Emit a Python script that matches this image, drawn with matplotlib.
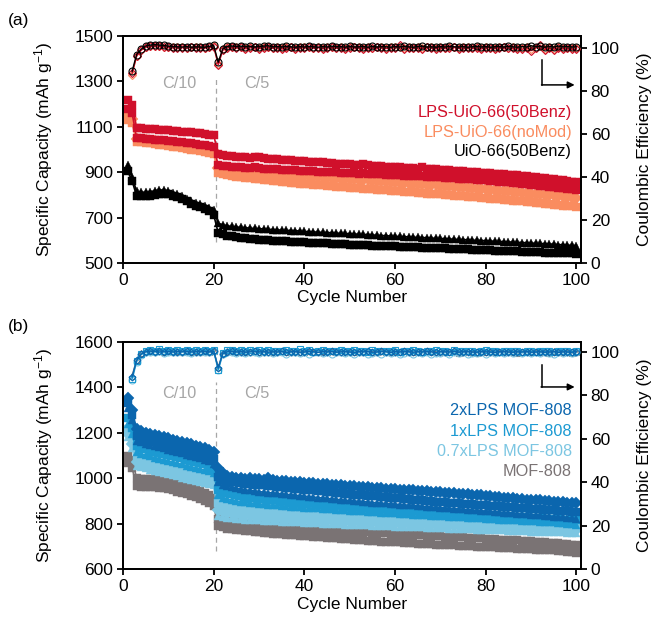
import numpy as np
import matplotlib
matplotlib.use("Agg")
import matplotlib.pyplot as plt

plt.rcParams['font.family'] = ['Liberation Sans', 'DejaVu Sans']
plt.rcParams['mathtext.fontset'] = 'custom'
plt.rcParams['mathtext.rm'] = 'Liberation Sans'
plt.rcParams['mathtext.it'] = 'Liberation Sans:italic'

cycles = list(range(1, 101))
cycles_ce = list(range(2, 101))

# ---------------- Panel (a) capacities ----------------
red_a1 = [1220, 1195, 1096, 1094, 1092, 1090, 1089, 1087, 1085, 1084,
          1082, 1080, 1079, 1077, 1075, 1073, 1071, 1068, 1066, 1063,
          978, 975, 973, 971, 969, 967, 966, 964, 968, 965,
          962, 960, 958, 957, 955, 954, 952, 951, 950, 948,
          947, 945, 944, 943, 941, 940, 938, 937, 936, 935,
          933, 932, 936, 931, 929, 928, 926, 925, 924, 922,
          921, 920, 919, 917, 916, 924, 915, 913, 912, 910,
          909, 908, 906, 905, 904, 902, 901, 900, 898, 897,
          895, 894, 892, 891, 889, 887, 886, 884, 882, 880,
          878, 876, 874, 871, 869, 866, 864, 861, 858, 855]
red_a2 = [1180, 1160, 1052, 1050, 1048, 1046, 1044, 1042, 1040, 1038,
          1036, 1034, 1032, 1030, 1027, 1025, 1022, 1019, 1016, 1012,
          930, 928, 926, 924, 922, 921, 919, 918, 921, 917,
          916, 915, 913, 912, 911, 910, 909, 908, 907, 906,
          905, 904, 903, 902, 901, 900, 899, 898, 897, 896,
          895, 894, 897, 893, 892, 891, 890, 889, 888, 887,
          886, 885, 884, 883, 882, 885, 881, 880, 878, 877,
          876, 875, 873, 872, 871, 869, 868, 867, 865, 864,
          862, 861, 859, 857, 855, 853, 851, 849, 847, 845,
          843, 841, 839, 837, 835, 832, 830, 827, 824, 821]
orange_a1 = [1150, 1135, 1045, 1043, 1041, 1039, 1037, 1035, 1032, 1030,
             1027, 1025, 1022, 1019, 1016, 1012, 1008, 1004, 1000, 995,
             920, 918, 915, 912, 910, 907, 905, 903, 906, 901,
             899, 897, 895, 893, 892, 890, 888, 887, 885, 884,
             882, 881, 879, 878, 876, 875, 873, 872, 870, 869,
             868, 866, 865, 868, 863, 861, 860, 858, 857, 855,
             854, 852, 851, 849, 848, 846, 845, 843, 850, 841,
             839, 838, 836, 834, 833, 831, 829, 828, 826, 824,
             822, 821, 819, 817, 815, 814, 812, 810, 808, 806,
             805, 803, 801, 800, 798, 796, 794, 792, 790, 788]
orange_a2 = [1140, 1125, 1040, 1038, 1036, 1034, 1031, 1029, 1026, 1024,
             1021, 1018, 1015, 1012, 1009, 1005, 1001, 997, 993, 988,
             905, 902, 899, 896, 893, 890, 887, 885, 888, 882,
             880, 878, 876, 874, 872, 870, 868, 866, 864, 862,
             861, 859, 857, 855, 854, 852, 850, 849, 847, 846,
             844, 843, 841, 840, 838, 837, 835, 834, 832, 831,
             829, 828, 826, 825, 823, 822, 820, 819, 817, 816,
             814, 813, 811, 810, 808, 806, 805, 803, 801, 800,
             798, 796, 795, 793, 791, 789, 788, 786, 784, 782,
             780, 778, 777, 775, 773, 771, 769, 767, 765, 763]
orange_a3 = [1130, 1115, 1035, 1033, 1030, 1028, 1025, 1022, 1019, 1016,
             1013, 1010, 1007, 1003, 1000, 996, 992, 988, 984, 980,
             895, 891, 887, 884, 881, 878, 875, 873, 870, 868,
             866, 864, 862, 860, 858, 856, 854, 852, 850, 849,
             847, 845, 843, 842, 840, 838, 837, 835, 833, 832,
             830, 829, 827, 826, 824, 823, 821, 820, 818, 817,
             815, 814, 812, 811, 809, 808, 806, 805, 803, 802,
             800, 799, 797, 796, 794, 792, 791, 789, 787, 786,
             784, 782, 780, 779, 777, 775, 773, 771, 769, 767,
             765, 763, 761, 759, 757, 755, 753, 751, 749, 746]
black_a1 = [930, 880, 815, 812, 811, 814, 818, 822, 821, 817,
            810, 802, 793, 784, 775, 766, 758, 750, 742, 735,
            675, 668, 664, 661, 659, 657, 655, 654, 652, 651,
            650, 649, 647, 646, 645, 644, 643, 642, 641, 639,
            638, 637, 636, 635, 634, 633, 632, 631, 630, 629,
            628, 627, 626, 625, 624, 622, 621, 620, 619, 618,
            617, 616, 615, 614, 613, 612, 611, 610, 609, 608,
            607, 606, 605, 604, 603, 602, 601, 600, 599, 598,
            597, 596, 595, 594, 593, 592, 591, 590, 589, 588,
            587, 586, 585, 584, 583, 581, 580, 579, 578, 576]
black_a2 = [905, 862, 795, 793, 794, 797, 801, 805, 806, 803,
            797, 789, 780, 771, 762, 753, 745, 737, 728, 712,
            632, 626, 621, 617, 614, 611, 609, 607, 605, 603,
            601, 600, 598, 597, 596, 595, 594, 593, 592, 591,
            590, 589, 588, 587, 586, 585, 584, 583, 582, 581,
            580, 579, 578, 578, 577, 576, 575, 574, 573, 573,
            572, 571, 570, 569, 569, 568, 567, 566, 565, 565,
            564, 563, 562, 561, 561, 560, 559, 558, 557, 557,
            556, 555, 554, 553, 553, 552, 551, 550, 549, 549,
            548, 547, 546, 546, 545, 544, 543, 542, 542, 541]

# ---------------- Panel (a) Coulombic efficiency ----------------
ce_a_black = [89.0, 96.8, 99.3, 100.8, 101.2, 101.4, 101.2, 101.0, 100.7, 100.5,
              100.4, 100.3, 100.5, 100.2, 100.4, 100.3, 100.2, 100.6, 101.0, 93.2,
              99.5, 100.6, 100.8, 100.5, 100.7, 100.4, 100.6, 100.3, 100.5, 100.7,
              100.9, 100.4, 100.5, 100.3, 100.6, 100.4, 100.2, 100.5, 100.3, 100.6,
              100.4, 100.2, 100.5, 100.3, 100.7, 100.4, 100.5, 100.2, 100.6, 100.3,
              100.4, 100.5, 100.2, 100.6, 100.3, 100.5, 100.4, 100.2, 100.5, 100.3,
              100.6, 100.4, 100.2, 100.5, 100.7, 100.3, 100.4, 100.2, 100.5, 100.3,
              100.6, 100.4, 100.3, 100.5, 100.2, 100.4, 100.6, 100.3, 100.5, 100.2,
              100.4, 100.5, 100.3, 100.6, 100.4, 100.2, 100.5, 100.3, 100.9, 100.4,
              100.6, 100.2, 100.5, 100.3, 100.7, 100.4, 100.5, 100.3, 100.4]
ce_a_red = [88.0, 96.0, 98.8, 100.2, 100.6, 100.8, 100.6, 100.4, 100.2, 100.0,
            99.9, 100.0, 99.8, 100.1, 99.9, 100.0, 99.8, 100.2, 100.4, 92.0,
            98.8, 100.0, 100.3, 99.8, 100.1, 99.5, 99.9, 100.2, 99.6, 100.0,
            100.3, 99.7, 100.0, 99.4, 99.9, 100.1, 99.6, 100.0, 99.8, 100.2,
            99.7, 100.0, 99.5, 99.9, 100.1, 99.7, 100.0, 99.6, 99.9, 100.2,
            99.8, 99.5, 100.0, 99.7, 100.1, 99.9, 99.6, 100.0, 99.8, 101.0,
            99.5, 100.0, 99.7, 99.9, 99.6, 100.1, 99.8, 99.5, 100.0, 99.7,
            99.9, 100.1, 99.6, 99.8, 100.0, 99.7, 99.9, 99.5, 100.0, 99.8,
            99.6, 99.9, 100.1, 99.7, 99.8, 99.5, 99.2, 100.0, 98.6, 99.7,
            101.2, 99.0, 99.8, 98.8, 99.9, 99.4, 99.8, 99.2, 99.5]
ce_a_orange = [87.5, 96.3, 99.0, 100.4, 100.8, 100.9, 100.7, 100.5, 100.3, 100.2,
               100.1, 100.2, 100.0, 100.2, 100.1, 100.2, 100.0, 100.3, 100.6, 92.6,
               99.2, 100.3, 100.5, 100.1, 100.3, 100.0, 100.2, 100.4, 100.0, 100.2,
               100.5, 100.0, 100.2, 99.9, 100.2, 100.3, 100.0, 100.2, 100.1, 100.4,
               100.0, 100.2, 99.9, 100.1, 100.3, 100.0, 100.2, 100.0, 100.1, 100.4,
               100.1, 99.9, 100.2, 100.0, 100.3, 100.1, 100.0, 100.2, 100.1, 100.5,
               99.9, 100.2, 100.0, 100.1, 99.9, 100.3, 100.1, 99.9, 100.2, 100.0,
               100.1, 100.3, 100.0, 100.1, 100.2, 100.0, 100.1, 99.9, 100.2, 100.0,
               99.9, 100.1, 100.3, 100.0, 100.1, 99.9, 99.8, 100.2, 99.5, 100.0,
               100.6, 99.6, 100.1, 99.5, 100.1, 99.8, 100.0, 99.7, 99.9]

# ---------------- Panel (b) capacities ----------------
db_b1 = [1355, 1300, 1215, 1207, 1201, 1196, 1191, 1186, 1181, 1176,
         1170, 1165, 1159, 1154, 1149, 1144, 1139, 1133, 1125, 1114,
         1045, 1022, 1012, 1006, 1003, 1000, 998, 1003, 996, 995,
         993, 1001, 991, 990, 988, 987, 985, 984, 982, 980,
         979, 978, 976, 975, 973, 972, 970, 969, 967, 965,
         964, 963, 961, 960, 958, 957, 955, 954, 953, 952,
         950, 949, 947, 946, 944, 943, 942, 940, 939, 938,
         936, 935, 933, 932, 930, 929, 927, 925, 924, 923,
         921, 919, 917, 915, 913, 911, 909, 907, 906, 905,
         903, 902, 900, 899, 897, 896, 894, 893, 892, 890]
db_b2 = [1330, 1280, 1185, 1178, 1172, 1167, 1162, 1157, 1152, 1147,
         1142, 1137, 1131, 1126, 1121, 1116, 1110, 1104, 1096, 1086,
         1005, 995, 989, 985, 982, 979, 976, 974, 972, 970,
         968, 966, 964, 962, 960, 958, 956, 954, 952, 950,
         948, 946, 944, 942, 940, 938, 936, 934, 932, 930,
         928, 927, 925, 923, 921, 920, 918, 916, 914, 912,
         911, 909, 907, 906, 904, 902, 901, 899, 897, 896,
         894, 893, 891, 890, 888, 887, 885, 884, 882, 881,
         879, 878, 876, 875, 873, 872, 870, 869, 867, 866,
         864, 863, 861, 860, 858, 857, 855, 854, 852, 850]
db_b3 = [1310, 1258, 1165, 1158, 1152, 1146, 1141, 1136, 1131, 1126,
         1120, 1115, 1110, 1104, 1099, 1093, 1088, 1082, 1074, 1063,
         985, 972, 965, 960, 956, 952, 949, 946, 944, 941,
         939, 937, 935, 933, 931, 929, 927, 925, 923, 921,
         919, 917, 915, 913, 911, 909, 907, 905, 903, 902,
         900, 898, 897, 895, 893, 892, 890, 889, 887, 886,
         884, 883, 881, 880, 878, 876, 875, 873, 872, 870,
         869, 867, 866, 864, 863, 861, 860, 858, 857, 855,
         854, 852, 851, 849, 848, 846, 844, 843, 841, 840,
         838, 836, 835, 833, 831, 830, 828, 826, 824, 822]
mb_b1 = [1265, 1222, 1140, 1133, 1127, 1121, 1116, 1111, 1106, 1101,
         1096, 1092, 1087, 1082, 1077, 1072, 1067, 1061, 1055, 1046,
         950, 940, 934, 929, 925, 921, 918, 915, 913, 910,
         908, 906, 904, 902, 900, 898, 897, 895, 893, 892,
         890, 889, 887, 886, 884, 883, 881, 880, 878, 877,
         876, 874, 873, 872, 870, 869, 868, 866, 865, 864,
         862, 861, 860, 858, 857, 856, 854, 853, 852, 850,
         849, 848, 847, 845, 844, 843, 842, 840, 839, 838,
         837, 835, 834, 833, 832, 830, 829, 828, 827, 825,
         824, 823, 822, 821, 820, 819, 818, 817, 816, 815]
mb_b2 = [1240, 1196, 1115, 1108, 1102, 1096, 1091, 1086, 1081, 1076,
         1071, 1066, 1061, 1056, 1051, 1046, 1041, 1036, 1030, 1021,
         925, 915, 909, 904, 900, 897, 894, 891, 889, 887,
         885, 883, 881, 880, 878, 877, 875, 874, 872, 871,
         869, 868, 867, 865, 864, 863, 861, 860, 859, 857,
         856, 855, 854, 852, 851, 850, 849, 847, 846, 845,
         844, 843, 841, 840, 839, 838, 837, 835, 834, 833,
         832, 831, 830, 829, 827, 826, 825, 824, 823, 822,
         821, 820, 818, 817, 816, 815, 814, 813, 812, 811,
         810, 808, 807, 806, 805, 803, 802, 800, 798, 795]
lb_b1 = [1215, 1172, 1090, 1083, 1077, 1071, 1066, 1061, 1056, 1051,
         1046, 1041, 1036, 1031, 1026, 1021, 1016, 1011, 1006, 1000,
         890, 882, 876, 872, 868, 865, 862, 860, 858, 856,
         854, 853, 851, 850, 849, 848, 846, 845, 844, 843,
         842, 841, 840, 839, 838, 837, 836, 835, 834, 833,
         832, 831, 830, 829, 828, 828, 827, 826, 825, 824,
         823, 822, 821, 820, 819, 818, 817, 816, 815, 814,
         813, 812, 811, 810, 809, 808, 807, 806, 805, 804,
         803, 802, 801, 800, 799, 798, 797, 796, 795, 794,
         793, 792, 791, 790, 789, 788, 787, 786, 785, 784]
lb_b2 = [1195, 1150, 1070, 1063, 1057, 1052, 1047, 1042, 1037, 1032,
         1027, 1022, 1017, 1012, 1007, 1002, 997, 993, 989, 984,
         860, 853, 848, 845, 842, 840, 838, 836, 834, 832,
         831, 830, 829, 828, 827, 826, 825, 824, 823, 822,
         821, 820, 819, 818, 817, 816, 815, 814, 813, 812,
         811, 811, 810, 809, 808, 807, 806, 806, 805, 804,
         803, 802, 801, 801, 800, 799, 798, 797, 797, 796,
         795, 794, 793, 793, 792, 791, 790, 789, 789, 788,
         787, 786, 785, 785, 784, 783, 782, 781, 781, 780,
         779, 778, 777, 777, 776, 775, 774, 773, 773, 772]
lb_b3 = [1180, 1132, 1055, 1049, 1043, 1038, 1033, 1028, 1023, 1018,
         1013, 1008, 1003, 998, 993, 988, 983, 979, 975, 970,
         832, 828, 825, 823, 821, 819, 818, 816, 815, 814,
         813, 812, 811, 810, 809, 808, 807, 806, 805, 804,
         803, 802, 801, 800, 800, 799, 798, 797, 796, 795,
         795, 794, 793, 792, 791, 791, 790, 789, 788, 787,
         787, 786, 785, 784, 784, 783, 782, 781, 781, 780,
         779, 778, 778, 777, 776, 775, 775, 774, 773, 772,
         772, 771, 770, 770, 769, 768, 767, 767, 766, 765,
         765, 764, 763, 763, 762, 761, 761, 760, 759, 758]
gy_b1 = [1100, 1082, 1000, 998, 997, 996, 995, 993, 990, 986,
         981, 976, 970, 964, 958, 951, 944, 936, 927, 912,
         820, 814, 810, 807, 805, 803, 801, 799, 797, 795,
         793, 791, 790, 788, 787, 785, 784, 782, 781, 779,
         778, 777, 775, 774, 773, 771, 770, 769, 767, 766,
         765, 764, 762, 761, 760, 759, 758, 757, 755, 754,
         753, 752, 751, 750, 749, 748, 747, 746, 745, 744,
         743, 742, 741, 740, 739, 738, 737, 736, 735, 734,
         733, 732, 730, 729, 728, 727, 726, 724, 723, 722,
         721, 719, 718, 716, 715, 713, 711, 709, 707, 705]
gy_b2 = [1065, 1045, 965, 963, 962, 961, 960, 958, 955, 951,
         946, 941, 935, 929, 923, 916, 909, 901, 892, 876,
         790, 783, 778, 775, 772, 770, 768, 766, 764, 762,
         760, 758, 756, 755, 753, 751, 750, 748, 747, 745,
         744, 742, 741, 739, 738, 736, 735, 733, 732, 731,
         729, 728, 727, 725, 724, 723, 721, 720, 719, 718,
         717, 716, 714, 713, 712, 711, 710, 709, 708, 707,
         706, 705, 704, 703, 702, 701, 700, 699, 698, 697,
         696, 695, 694, 693, 692, 691, 690, 689, 688, 687,
         686, 685, 684, 683, 682, 680, 679, 677, 675, 672]

# ---------------- Panel (b) Coulombic efficiency ----------------
ce_b_db = [88.5, 96.2, 99.0, 100.1, 100.4, 100.2, 100.5, 100.1, 100.3, 100.0,
           100.2, 100.1, 100.3, 100.0, 100.2, 100.1, 100.3, 100.0, 100.4, 92.6,
           99.3, 100.1, 100.3, 100.0, 100.2, 99.9, 100.1, 100.3, 100.0, 100.2,
           99.9, 100.1, 100.0, 100.3, 99.8, 100.1, 100.2, 99.9, 100.0, 100.3,
           100.1, 99.8, 100.2, 100.0, 100.3, 99.9, 100.1, 100.2, 100.0, 99.8,
           100.2, 100.1, 100.3, 99.9, 100.0, 100.4, 100.1, 99.8, 100.2, 100.0,
           100.3, 100.1, 99.9, 100.2, 100.0, 100.3, 100.1, 99.8, 100.2, 100.1,
           100.0, 100.3, 99.9, 100.1, 100.2, 100.0, 99.9, 100.2, 100.1, 100.0,
           99.8, 100.1, 100.2, 100.0, 99.9, 100.1, 100.0, 100.2, 99.9, 100.0,
           100.1, 99.9, 100.0, 100.2, 99.8, 100.1, 100.0, 99.9, 100.1]
ce_b_mb = [87.8, 95.8, 99.2, 100.6, 101.0, 100.7, 101.2, 100.6, 100.9, 100.4,
           101.1, 100.5, 100.8, 100.3, 101.0, 100.6, 100.9, 100.4, 101.1, 91.8,
           99.6, 100.8, 101.0, 100.5, 100.9, 100.4, 101.0, 100.6, 100.8, 100.3,
           101.0, 100.5, 100.7, 100.4, 100.9, 100.3, 100.6, 101.2, 100.4, 100.8,
           100.2, 100.6, 100.9, 100.3, 100.7, 100.4, 101.0, 100.5, 100.3, 100.8,
           100.4, 100.6, 100.2, 100.9, 100.5, 100.3, 100.7, 100.4, 101.1, 100.2,
           100.6, 100.3, 100.8, 100.5, 100.2, 100.7, 100.4, 100.9, 100.3, 100.6,
           100.2, 100.8, 100.4, 100.6, 100.3, 100.7, 100.2, 100.5, 100.8, 100.3,
           100.6, 100.2, 100.4, 100.7, 100.3, 100.5, 100.2, 100.6, 100.4, 100.2,
           100.5, 100.3, 100.6, 100.2, 100.4, 100.7, 100.3, 100.2, 100.5]
ce_b_lb = [87.0, 95.5, 98.8, 99.8, 100.2, 99.9, 100.3, 99.7, 100.1, 99.8,
           100.2, 99.9, 100.1, 99.7, 100.0, 99.8, 100.2, 99.9, 100.3, 91.5,
           98.9, 99.8, 100.1, 99.7, 100.0, 99.4, 99.9, 100.2, 99.6, 99.9,
           100.1, 99.5, 99.9, 100.0, 99.3, 99.8, 100.1, 99.6, 99.9, 99.2,
           99.8, 100.0, 99.5, 99.9, 99.1, 99.8, 100.0, 99.4, 99.9, 99.2,
           99.8, 100.0, 99.3, 99.7, 99.9, 99.0, 99.8, 99.5, 99.9, 99.2,
           99.7, 99.9, 99.1, 99.8, 99.5, 99.9, 98.9, 99.7, 99.6, 99.9,
           99.2, 99.8, 99.5, 99.9, 99.0, 99.7, 99.6, 99.9, 99.3, 99.8,
           99.6, 99.9, 99.4, 99.8, 99.7, 99.9, 99.5, 99.8, 99.7, 99.9,
           99.6, 99.8, 99.7, 99.2, 99.9, 99.7, 99.8, 99.6, 99.9]
ce_b_gy = [89.0, 96.5, 99.4, 100.3, 100.6, 100.4, 100.5, 100.2, 100.4, 100.1,
           100.3, 100.2, 100.4, 100.1, 100.3, 100.2, 100.4, 100.1, 100.5, 93.0,
           99.6, 100.3, 100.4, 100.1, 100.3, 100.0, 100.2, 100.4, 100.1, 100.3,
           100.0, 100.2, 100.1, 100.4, 99.9, 100.2, 100.3, 100.0, 100.1, 100.4,
           100.2, 99.9, 100.3, 100.1, 100.4, 100.0, 100.2, 100.3, 100.1, 99.9,
           100.3, 100.2, 100.4, 100.0, 100.1, 100.5, 100.2, 99.9, 100.3, 100.1,
           100.4, 100.2, 99.8, 100.3, 100.1, 100.4, 100.2, 99.9, 100.3, 100.2,
           100.1, 100.4, 99.6, 100.2, 100.3, 100.1, 99.7, 100.3, 100.2, 100.1,
           99.9, 100.2, 100.3, 100.1, 100.0, 99.6, 100.1, 100.3, 100.0, 100.1,
           100.2, 100.0, 99.5, 100.3, 99.9, 100.2, 100.1, 99.4, 100.2]

legend_a = ["LPS-UiO-66(50Benz)", "LPS-UiO-66(noMod)", "UiO-66(50Benz)"]
legend_b = ["2xLPS MOF-808", "1xLPS MOF-808", "0.7xLPS MOF-808", "MOF-808"]
rate_labels = ["C/10", "C/5"]

C_RED = '#D0102B'
C_ORANGE = '#FA8C5F'
C_BLACK = '#000000'
C_DB = '#0B66AE'
C_MB = '#1C9AD2'
C_LB = '#7CC6E2'
C_GY = '#7A7374'
C_TXT = '#A6A6A6'

fig = plt.figure(figsize=(6.53, 6.21), dpi=100)
ax_a = fig.add_axes([0.1884, 0.5765, 0.7013, 0.3655])
ax_b = fig.add_axes([0.1884, 0.0837, 0.7013, 0.3655])


def cap(ax, y, color, marker, ms=6.0, z=2):
    ax.plot(cycles, y, color=color, lw=1.2, marker=marker, ms=ms,
            mec=color, mew=0.3, zorder=z)


def ce(ax, y, color, marker, ms=5, fill='none', z=3):
    ax.plot(cycles_ce, y, color=color, lw=1.0, marker=marker, ms=ms,
            mfc=fill, mec=color, mew=0.8, zorder=z)


def style(ax, ax2, ylo, yhi, ce_top):
    ax.set_xlim(0, 101)
    ax.set_ylim(ylo, yhi)
    ax.set_yticks(np.arange(ylo, yhi + 1, 200))
    ax.set_xticks([0, 20, 40, 60, 80, 100])
    ax2.set_ylim(0, ce_top)
    ax2.set_yticks([0, 20, 40, 60, 80, 100])
    for a in (ax, ax2):
        a.tick_params(direction='out', length=4, width=1.3, labelsize=12.5, pad=3)
        for s in a.spines.values():
            s.set_linewidth(1.3)
    ax.set_xlabel("Cycle Number", fontsize=12.5, labelpad=2)
    ax.set_ylabel("Specific Capacity (mAh g$^{-1}$)", fontsize=12.5)
    ax.yaxis.set_label_coords(-0.148, 0.5)
    ax2.set_ylabel("Coulombic Efficiency (%)", fontsize=12.5)
    ax2.yaxis.set_label_coords(1.122, 0.5)


# ---------- Panel (a) ----------
ax2a = ax_a.twinx()
for y, m in zip([orange_a1, orange_a2, orange_a3], ['D', '^', 's']):
    cap(ax_a, y, C_ORANGE, m)
for y in [red_a1, red_a2]:
    cap(ax_a, y, C_RED, 's')
cap(ax_a, black_a1, C_BLACK, '^')
cap(ax_a, black_a2, C_BLACK, 's')
ce(ax2a, ce_a_orange, C_ORANGE, 'D', ms=4)
ce(ax2a, ce_a_red, C_RED, 'D', ms=4)
ce(ax2a, ce_a_black, C_BLACK, 'o', ms=5)
ax_a.plot([20.4, 20.4], [593, 1325], color='#A6A6A6', lw=0.9, ls=(0, (4, 3)), zorder=1)
ax_a.text(12.4, 1290, rate_labels[0], color=C_TXT, fontsize=11.7, ha='center', va='center')
ax_a.text(29.6, 1290, rate_labels[1], color=C_TXT, fontsize=11.7, ha='center', va='center')
for lbl, col, yy in zip(legend_a, [C_RED, C_ORANGE, C_BLACK], [1161, 1077, 993]):
    ax_a.text(99, yy, lbl, color=col, fontsize=11.7, ha='right', va='center')
ax2a.plot([92.4, 92.4], [94.3, 82.7], color='k', lw=1.1)
ax2a.annotate('', xy=(99.6, 82.7), xytext=(92.3, 82.7),
              arrowprops=dict(arrowstyle='-|>', color='k', lw=1.1, mutation_scale=10,
                              shrinkA=0, shrinkB=0))
style(ax_a, ax2a, 500, 1500, 105.4)

# ---------- Panel (b) ----------
ax2b = ax_b.twinx()
cap(ax_b, gy_b1, C_GY, 's')
cap(ax_b, gy_b2, C_GY, 's')
for y, m in zip([lb_b1, lb_b2, lb_b3], ['s', 'D', '^']):
    cap(ax_b, y, C_LB, m)
for y, m in zip([mb_b1, mb_b2], ['s', '^']):
    cap(ax_b, y, C_MB, m)
for y, m in zip([db_b1, db_b2, db_b3], ['D', 's', '^']):
    cap(ax_b, y, C_DB, m)
ce(ax2b, ce_b_gy, C_GY, '^', ms=4)
ce(ax2b, ce_b_lb, C_LB, 'o', ms=5)
ce(ax2b, ce_b_mb, C_MB, 's', ms=5)
ce(ax2b, ce_b_db, C_DB, 'D', ms=3.5)
ax_b.plot([20.6, 20.6], [680, 1425], color='#A6A6A6', lw=0.9, ls=(0, (4, 3)), zorder=1)
ax_b.text(12.4, 1375, rate_labels[0], color=C_TXT, fontsize=11.7, ha='center', va='center')
ax_b.text(29.6, 1375, rate_labels[1], color=C_TXT, fontsize=11.7, ha='center', va='center')
for lbl, col, yy in zip(legend_b, [C_DB, C_MB, C_LB, C_GY], [1300, 1208, 1119, 1031]):
    ax_b.text(99, yy, lbl, color=col, fontsize=11.7, ha='right', va='center')
ax2b.plot([92.3, 92.3], [93.9, 83.9], color='k', lw=1.1)
ax2b.annotate('', xy=(99.6, 83.9), xytext=(92.2, 83.9),
              arrowprops=dict(arrowstyle='-|>', color='k', lw=1.1, mutation_scale=10,
                              shrinkA=0, shrinkB=0))
style(ax_b, ax2b, 600, 1600, 104.6)

fig.text(8 / 653, 1 - 20 / 621, "(a)", fontsize=12.5, ha='left', va='center')
fig.text(8 / 653, 1 - 326 / 621, "(b)", fontsize=12.5, ha='left', va='center')

fig.savefig("out.png", dpi=100)
